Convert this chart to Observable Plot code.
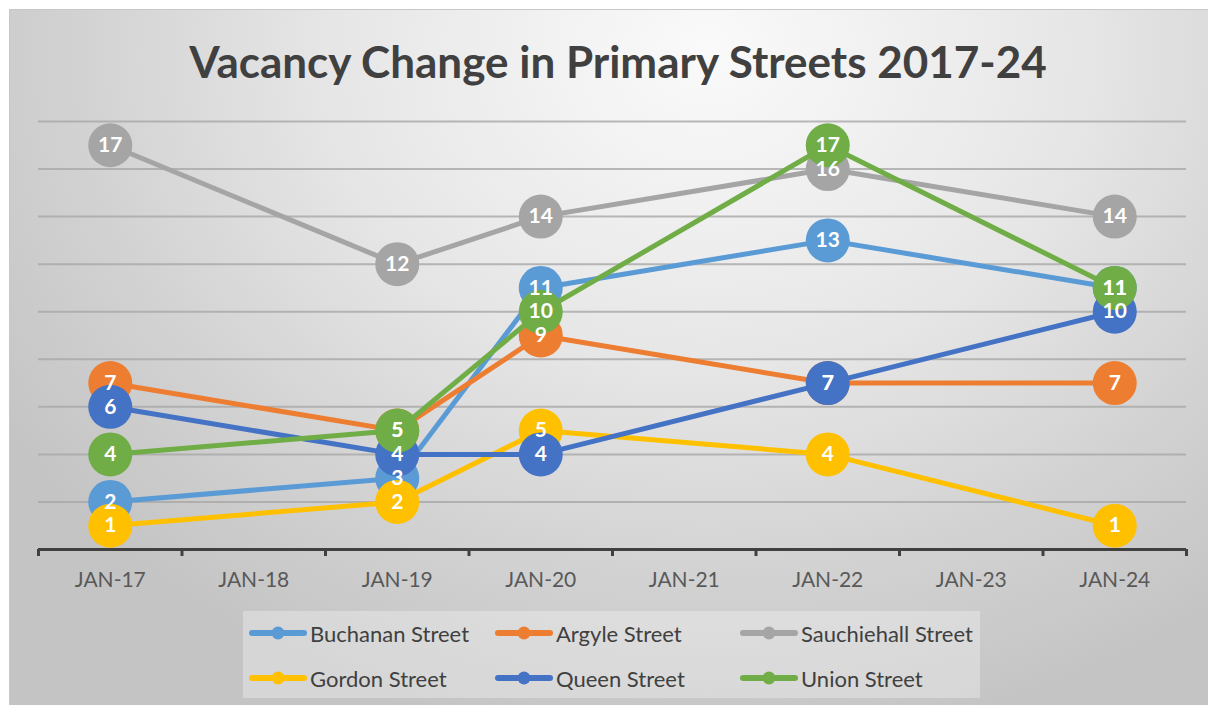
<!DOCTYPE html>
<html><head><meta charset="utf-8">
<script src="https://cdn.jsdelivr.net/npm/d3@7"></script>
<script src="https://cdn.jsdelivr.net/npm/@observablehq/plot@0.6"></script>
<style>
html,body{margin:0;padding:0;background:#fff;}
#wrap{position:relative;width:1208px;height:705px;overflow:hidden;font-family:Lato,"Open Sans",sans-serif;}
#frame{position:absolute;left:9px;top:9px;width:1200px;height:700px;border-left:1px solid #c8c8c8;border-top:1px solid #c8c8c8;
  background:radial-gradient(ellipse 70% 100% at 58% 6%, #fafafa 0%, #e6e6e6 45%, #d2d2d2 75%, #c4c4c4 100%);}
#title{position:absolute;left:18px;top:39px;width:1200px;text-align:center;font-size:44px;line-height:44px;font-weight:700;color:#404040;white-space:nowrap;}
#chart{position:absolute;left:0;top:100px;}
#legend{position:absolute;left:243px;top:611px;width:737px;height:87px;background:rgba(255,255,255,0.3);}
.item{position:absolute;display:flex;align-items:center;height:30px;font-size:22px;color:#404040;white-space:nowrap;}
.item svg{margin-right:3px;}
</style>
</head><body>
<div id="wrap">
  <div id="frame"></div>
  <div id="title">Vacancy Change in Primary Streets 2017-24</div>
  <div id="chart"></div>
  <div id="legend"></div>
</div>
<script>
const months = ["JAN-17","JAN-18","JAN-19","JAN-20","JAN-21","JAN-22","JAN-23","JAN-24"];
const buchanan    = [2, null, 3, 11, null, 13, null, 11];
const argyle      = [7, null, 5, 9, null, 7, null, 7];
const sauchiehall = [17, null, 12, 14, null, 16, null, 14];
const gordon      = [1, null, 2, 5, null, 4, null, 1];
const queen       = [6, null, 4, 4, null, 7, null, 10];
const union       = [4, null, 5, 10, null, 17, null, 11];
const streetNames = ["Buchanan Street","Argyle Street","Sauchiehall Street","Gordon Street","Queen Street","Union Street"];
const streetColors = ["#5B9BD5","#ED7D31","#A5A5A5","#FFC000","#4472C4","#70AD47"];
const gridValues = [2,4,6,8,10,12,14,16,18];

const seriesValues = [buchanan, argyle, sauchiehall, gordon, queen, union];
const rows = [];
seriesValues.forEach((vals, s) => {
  vals.forEach((v, i) => {
    if (v !== null) rows.push({street: streetNames[s], color: streetColors[s], i, month: months[i], value: v});
  });
});

const boundaries = d3.range(months.length + 1).map(i => i - 0.5);
const font = "Lato, 'Open Sans', sans-serif";

const seriesMarks = [];
streetNames.forEach((name, s) => {
  const data = rows.filter(d => d.street === name);
  seriesMarks.push(Plot.line(data, {x: "i", y: "value", stroke: streetColors[s], strokeWidth: 5}));
  seriesMarks.push(Plot.dot(data, {x: "i", y: "value", r: 22, fill: streetColors[s], stroke: null}));
});

const plot = Plot.plot({
  width: 1208,
  height: 500,
  marginLeft: 38,
  marginRight: 22,
  marginTop: 21,
  marginBottom: 51,
  style: {background: "transparent", overflow: "visible", fontFamily: font},
  x: {type: "linear", domain: [-0.5, months.length - 0.5], axis: null, label: null},
  y: {domain: [0, 18], axis: null},
  marks: [
    Plot.ruleY(gridValues, {stroke: "#a8a8a8", strokeWidth: 2, strokeOpacity: 0.8}),
    Plot.ruleY([0], {stroke: "#404040", strokeWidth: 3}),
    Plot.axisX({ticks: boundaries, tickFormat: () => "", tickSize: 7, stroke: "#404040", strokeWidth: 3, label: null}),
    Plot.axisX({ticks: d3.range(months.length), tickFormat: i => months[i], tickSize: 0, tickPadding: 23,
      fontSize: 21, fill: "#595959", fontFamily: font, label: null}),
    ...seriesMarks,
    Plot.text(rows, {x: "i", y: "value", text: d => String(d.value), fill: "white", fontSize: 21, fontWeight: 700, fontFamily: font})
  ]
});
document.getElementById("chart").appendChild(plot);

// legend
const legend = d3.select("#legend");
const colX = [6, 252, 497];
const rowY = [7, 52];
streetNames.forEach((name, s) => {
  const item = legend.append("div").attr("class", "item")
    .style("left", colX[s % 3] + "px").style("top", rowY[Math.floor(s / 3)] + "px");
  const svg = item.append("svg").attr("width", 58).attr("height", 16);
  svg.append("line").attr("x1", 3).attr("x2", 55).attr("y1", 8).attr("y2", 8)
    .attr("stroke", streetColors[s]).attr("stroke-width", 6).attr("stroke-linecap", "round");
  svg.append("circle").attr("cx", 29).attr("cy", 8).attr("r", 6.5).attr("fill", streetColors[s]);
  item.append("span").text(name);
});
</script>
</body></html>
